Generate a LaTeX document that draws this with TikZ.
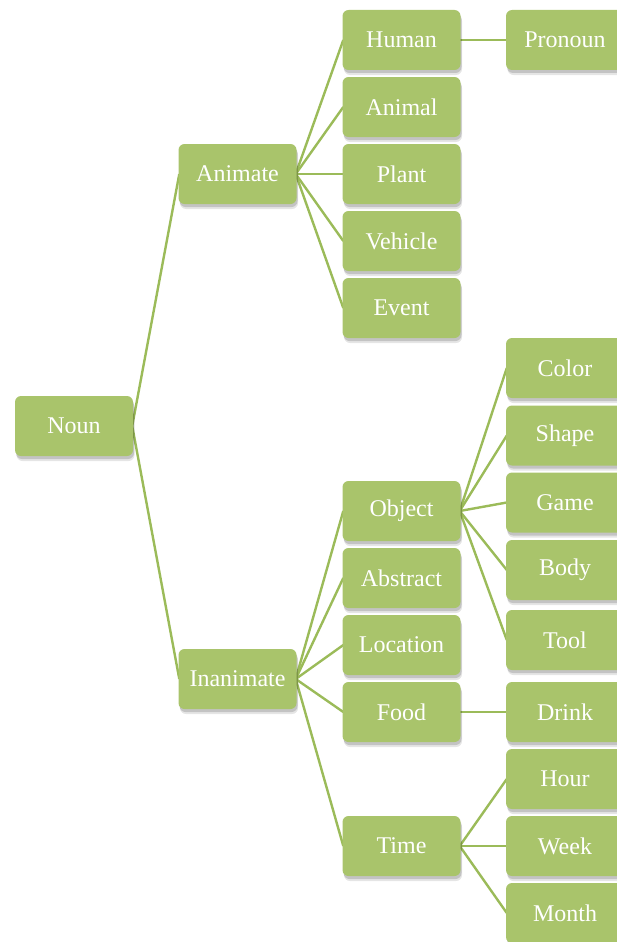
\documentclass[tikz,border=0pt]{standalone}
\usepackage{fontspec}
\setmainfont{Liberation Serif}
\usetikzlibrary{shadows,backgrounds}
\definecolor{boxgreen}{HTML}{A9C46B}
\definecolor{linegreen}{HTML}{9BBB59}
\tikzset{
  box/.style={draw=none, fill=boxgreen, rounded corners=6pt, minimum width=118pt, minimum height=60pt,
    text=white, font=\fontsize{24}{28}\selectfont, inner sep=0pt,
    drop shadow={opacity=0.10, shadow xshift=1.5pt, shadow yshift=-5pt, fill=black},
    drop shadow={opacity=0.15, shadow xshift=1pt, shadow yshift=-3pt, fill=black}},
  link/.style={draw=linegreen, line width=2.4pt}
}
\begin{document}
\begin{tikzpicture}[x=1pt,y=-1pt]
\useasboundingbox (0,0) rectangle (617,942);
\node[box] (noun) at (74,426) {Noun};
\node[box] (animate) at (237.5,174) {Animate};
\node[box] (inanimate) at (237.5,679) {Inanimate};
\node[box] (human) at (401.5,40) {Human};
\node[box] (animal) at (401.5,107) {Animal};
\node[box] (plant) at (401.5,174) {Plant};
\node[box] (vehicle) at (401.5,241) {Vehicle};
\node[box] (event) at (401.5,308) {Event};
\node[box] (object) at (401.5,511) {Object};
\node[box] (abstract) at (401.5,578) {Abstract};
\node[box] (location) at (401.5,645) {Location};
\node[box] (food) at (401.5,712) {Food};
\node[box] (time) at (401.5,846) {Time};
\node[box] (pronoun) at (565,40) {Pronoun};
\node[box] (color) at (565,368) {Color};
\node[box] (shape) at (565,435.5) {Shape};
\node[box] (game) at (565,502.5) {Game};
\node[box] (body) at (565,570) {Body};
\node[box] (tool) at (565,640) {Tool};
\node[box] (drink) at (565,712) {Drink};
\node[box] (hour) at (565,779) {Hour};
\node[box] (week) at (565,846) {Week};
\node[box] (month) at (565,913) {Month};
\begin{scope}[on background layer]
\foreach \a/\b in {noun/animate, noun/inanimate,
  animate/human, animate/animal, animate/plant, animate/vehicle, animate/event,
  inanimate/object, inanimate/abstract, inanimate/location, inanimate/food, inanimate/time,
  human/pronoun, object/color, object/shape, object/game, object/body, object/tool,
  food/drink, time/hour, time/week, time/month}
  \draw[link] ([xshift=-1pt]\a.east) -- ([xshift=1pt]\b.west);
\end{scope}
\end{tikzpicture}
\end{document}
